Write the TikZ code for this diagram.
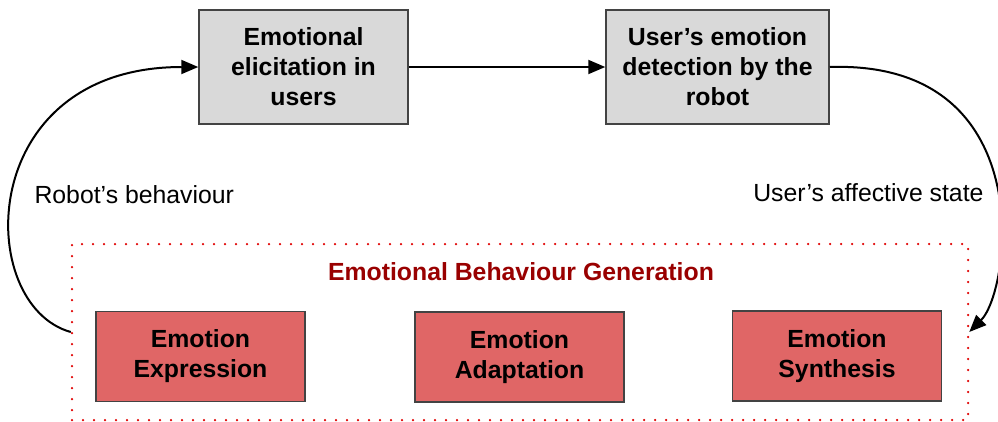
\documentclass[tikz,border=0pt]{standalone}
\usepackage{fontspec}
\setmainfont{Liberation Sans}
\usetikzlibrary{arrows.meta}
\definecolor{boxgray}{HTML}{D9D9D9}
\definecolor{boxred}{HTML}{E06666}
\definecolor{titlered}{HTML}{990000}
\definecolor{dotred}{HTML}{E00000}
\definecolor{edgegray}{HTML}{434343}
\newcommand{\txt}{\fontsize{24.8}{30}\selectfont}

\begin{document}
\begin{tikzpicture}[x=1pt,y=-1pt,
  stage/.style={draw=edgegray,line width=1.5pt,fill=boxgray,align=center,font=\txt\bfseries,minimum height=114pt,inner sep=0pt},
  part/.style={draw=edgegray,line width=1.5pt,fill=boxred,align=center,font=\txt\bfseries,minimum width=209pt,minimum height=90pt,inner sep=0pt},
  flow/.style={draw,line width=2pt,-{Triangle[length=17pt,width=14pt]}}]
\useasboundingbox (0,0) rectangle (998,421);

\node[stage,minimum width=209pt] (elicit) at (303.5,67) {Emotional\\elicitation in\\users};
\node[stage,minimum width=223pt] (detect) at (717.5,67) {User’s emotion\\detection by the\\robot};

\node[draw=dotred,line width=2.5pt,dash pattern=on 0pt off 11pt,line cap=round,minimum width=896pt,minimum height=176pt,inner sep=0pt] (gen) at (520,332) {};
\node[font=\txt\bfseries,text=titlered] (title) at (521,272) {Emotional Behaviour Generation};

\node[part] (expr) at (200.5,356.5) {Emotion\\Expression};
\node[part] (adapt) at (519.5,357) {Emotion\\Adaptation};
\node[part] (synth) at (837,356) {Emotion\\Synthesis};

\path[flow] (elicit) -- (detect);
\path[flow] (gen.west) .. controls +(-97,-27) and +(-224,0) .. (elicit.west);
\path[flow] (detect.east) .. controls +(211,-7) and +(42,-42) .. (gen.east);

\node[font=\txt,anchor=west] (behav) at (31,195) {Robot’s behaviour};
\node[font=\txt,anchor=east] (affect) at (987,193) {User’s affective state};
\end{tikzpicture}
\end{document}
